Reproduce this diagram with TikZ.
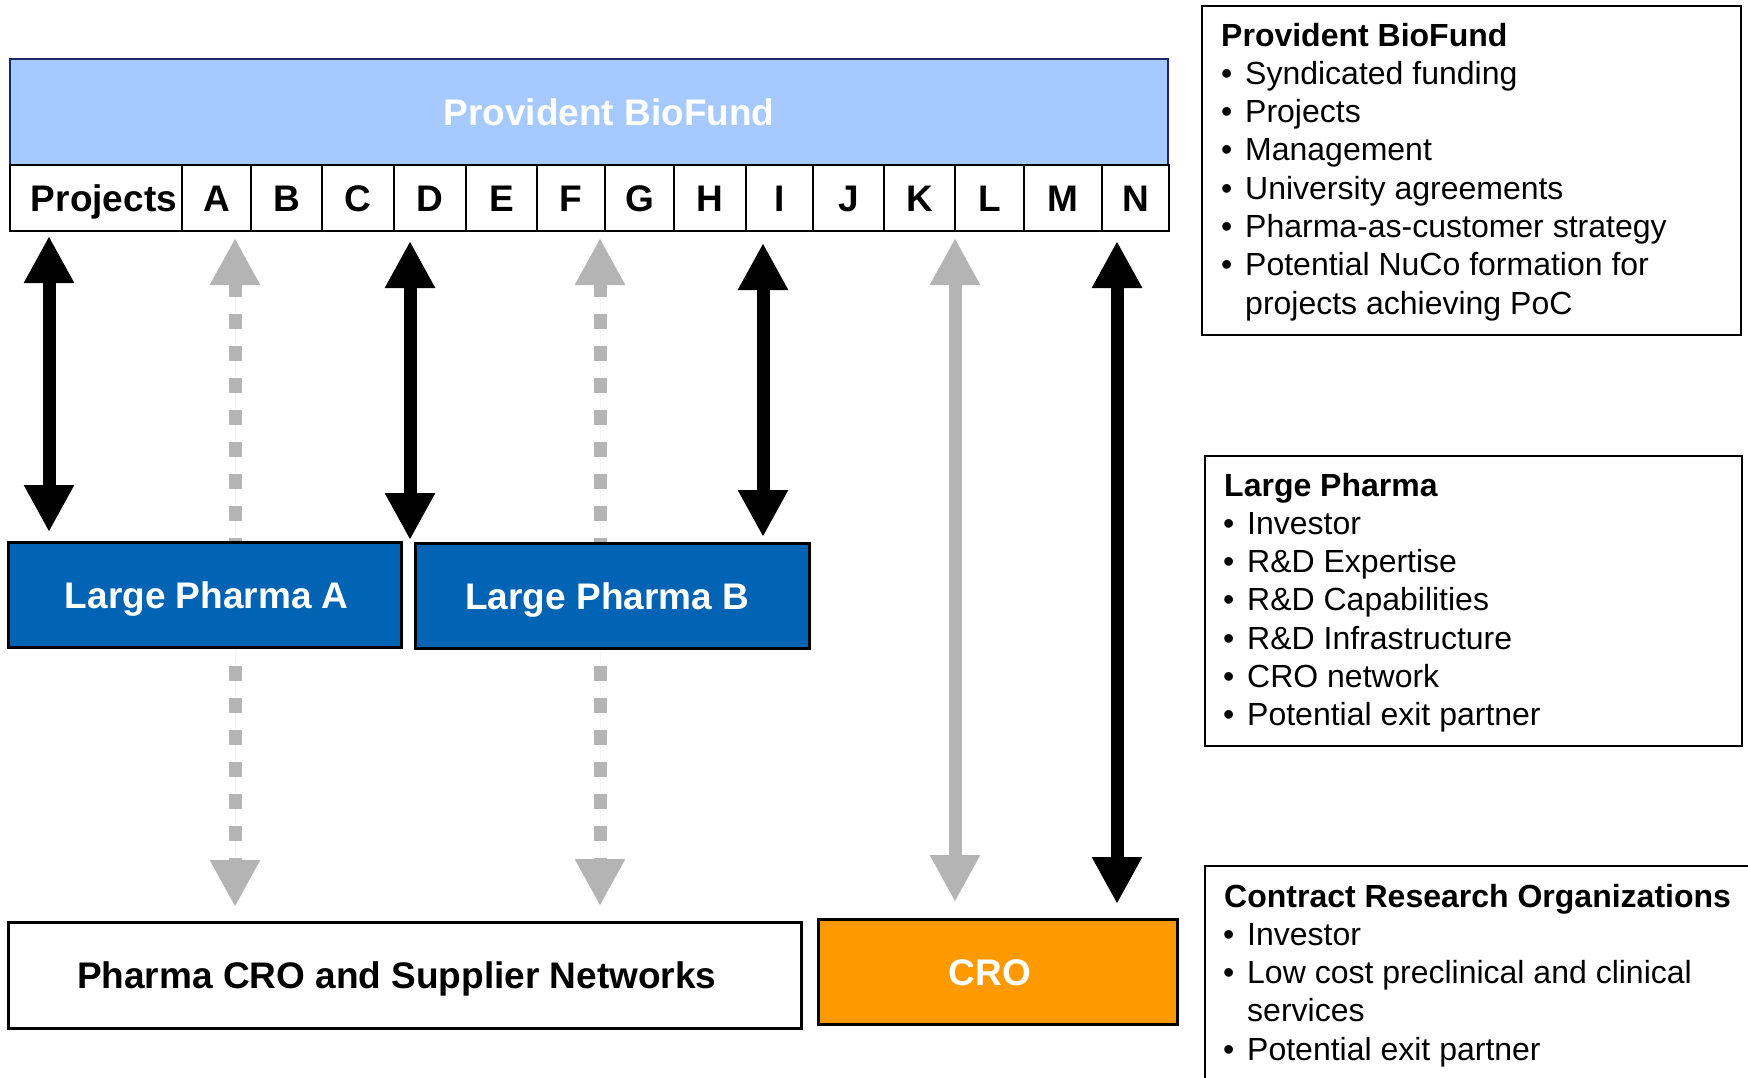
\documentclass[tikz,border=0pt]{standalone}
\usepackage{fontspec}
\setmainfont{Liberation Sans}
\usetikzlibrary{arrows.meta}
\definecolor{barblue}{RGB}{166,202,255}
\definecolor{lpblue}{RGB}{0,99,180}
\definecolor{croorange}{RGB}{255,153,0}
\definecolor{arrgray}{RGB}{180,180,180}
\definecolor{barnavy}{RGB}{30,40,100}
\newcommand\infobul{\makebox[24pt][l]{\textbullet}}
\begin{document}
\begin{tikzpicture}[x=1pt,y=-1pt,
  bigfont/.style={font=\fontsize{37}{44}\selectfont\bfseries, text height=26.5pt, text depth=0pt},
  infofont/.style={font=\fontsize{32}{38.4}\selectfont, anchor=base west, inner sep=0pt},
  cell/.style={draw=black, line width=2pt, fill=white, minimum height=66pt, inner sep=0pt, anchor=north west, bigfont},
  box/.style={draw=black, line width=2.5pt, inner sep=0pt, anchor=north west},
  infobox/.style={draw=black, line width=2pt, inner sep=0pt, anchor=north west},
  dblarrow/.style={line width=13pt, {Triangle[width=47pt,length=47pt]}-{Triangle[width=47pt,length=47pt]}},
  blackarrow/.style={dblarrow, draw=black, fill=black},
  grayarrow/.style={dblarrow, draw=arrgray, fill=arrgray},
  graydash/.style={grayarrow, dash pattern=on 15pt off 17pt},
]
\clip (0,0) rectangle (1748,1077);
\fill[white] (0,0) rectangle (1748,1077);

% top bar and project row
\node[box, fill=barblue, draw=barnavy, line width=2pt, minimum width=1158pt, minimum height=106pt] (pbf) at (9,58) {};
\node[bigfont, text=white] (pbfl) at ([xshift=20pt]pbf.center) {Provident BioFund};

\node[cell, minimum width=172pt] (cP) at (9,164) {};
\node[bigfont] (cPl) at ([xshift=8pt]cP.center) {Projects};
\node[cell, minimum width=69pt] (cA) at (181,164) {A};
\node[cell, minimum width=71pt] (cB) at (250,164) {B};
\node[cell, minimum width=72pt] (cC) at (321,164) {C};
\node[cell, minimum width=72pt] (cD) at (393,164) {D};
\node[cell, minimum width=71pt] (cE) at (465,164) {E};
\node[cell, minimum width=68pt] (cF) at (536,164) {F};
\node[cell, minimum width=69pt] (cG) at (604,164) {G};
\node[cell, minimum width=72pt] (cH) at (673,164) {H};
\node[cell, minimum width=67pt] (cI) at (745,164) {I};
\node[cell, minimum width=71pt] (cJ) at (812,164) {J};
\node[cell, minimum width=71pt] (cK) at (883,164) {K};
\node[cell, minimum width=69pt] (cL) at (954,164) {L};
\node[cell, minimum width=78pt] (cM) at (1023,164) {M};
\node[cell, minimum width=67pt] (cN) at (1101,164) {N};

% box corners (boxes drawn after arrows)
\coordinate (LPAnw) at (7,541);
\coordinate (LPBnw) at (414,542);
\coordinate (PCnw) at (7,921);
\coordinate (CROnw) at (817,918);

% arrows
\draw[graydash, shorten <=6pt, shorten >=14pt] (235,0 |- cP.south) -- (235,0 |- PCnw);
\draw[graydash, shorten <=6pt, shorten >=15pt] (600,0 |- cP.south) -- (600,0 |- PCnw);
\draw[grayarrow, shorten <=6pt, shorten >=16pt] (955,0 |- cP.south) -- (955,0 |- CROnw);
\draw[blackarrow, shorten <=4pt, shorten >=9pt] (49,0 |- cP.south) -- (49,0 |- LPAnw);
\draw[blackarrow, shorten <=9pt, shorten >=2pt] (410,0 |- cP.south) -- (410,0 |- LPBnw);
\draw[blackarrow, shorten <=11pt, shorten >=5pt] (763,0 |- cP.south) -- (763,0 |- LPBnw);
\draw[blackarrow, shorten <=9pt, shorten >=14pt] (1117,0 |- cP.south) -- (1117,0 |- CROnw);

\node[box, fill=lpblue, minimum width=393pt, minimum height=105pt] (LPA) at (LPAnw) {};
\node[bigfont, text=white] (LPAl) at ([xshift=2pt]LPA.center) {Large Pharma A};
\node[box, fill=lpblue, minimum width=394pt, minimum height=105pt] (LPB) at (LPBnw) {};
\node[bigfont, text=white] (LPBl) at ([xshift=-5pt]LPB.center) {Large Pharma B};
\node[box, fill=white, minimum width=793pt, minimum height=106pt] (PC) at (PCnw) {};
\node[bigfont] (PCl) at ([xshift=-8pt]PC.center) {Pharma CRO and Supplier Networks};
\node[box, fill=croorange, minimum width=359pt, minimum height=105pt] (CRO) at (CROnw) {};
\node[bigfont, text=white] (CROl) at ([xshift=-8pt]CRO.center) {CRO};

% info boxes
\node[infobox, minimum width=539pt, minimum height=329pt] (ipb) at (1201,4.5) {};
\node[infofont] (pbh) at (1221,46) {\bfseries Provident BioFund};
\foreach \t [count=\i] in {Syndicated funding, Projects, Management, University agreements, Pharma-as-customer strategy, Potential NuCo formation for}
  \node[infofont] (pb\i) at (1221,46+38.3*\i) {\infobul\t};
\node[infofont] (pb7) at (1245,46+38.3*7) {projects achieving PoC};

\node[infobox, minimum width=537pt, minimum height=290pt] (ilp) at (1204,455) {};
\node[infofont] (lph) at (1224,496) {\bfseries Large Pharma};
\foreach \t [count=\i] in {Investor, R\&D Expertise, R\&D Capabilities, R\&D Infrastructure, CRO network, Potential exit partner}
  \node[infofont] (lp\i) at (1223,496+38.3*\i) {\infobul\t};

\node[infobox, minimum width=600pt, minimum height=300pt] (icro) at (1204,865) {};
\node[infofont] (croh) at (1224,907) {\bfseries Contract Research Organizations};
\node[infofont] (cro1) at (1223,945.3) {\infobul Investor};
\node[infofont] (cro2) at (1223,983.6) {\infobul Low cost preclinical and clinical};
\node[infofont] (cro3) at (1247,1021.9) {services};
\node[infofont] (cro4) at (1223,1060.2) {\infobul Potential exit partner};
\end{tikzpicture}
\end{document}
